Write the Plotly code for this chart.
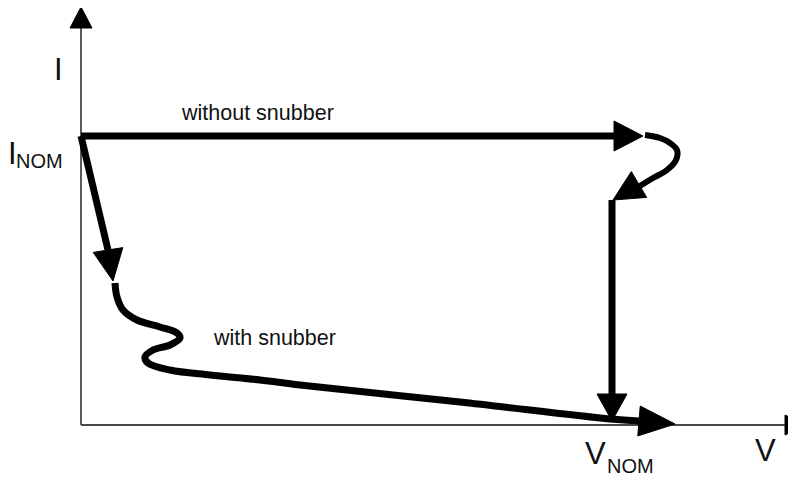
"""Switching trajectory sketch: I-V path with and without snubber."""
import numpy as np
import plotly.graph_objects as go

# path points in chart units (V right, I up)
no_snub_line_v = [0, 533]
no_snub_line_i = [288, 288]
no_snub_loop_v = [564, 579, 589, 596, 595, 586, 572, 559]
no_snub_loop_i = [289, 286, 281, 274, 264, 254, 246, 238]
no_snub_drop_v = [531, 531]
no_snub_drop_i = [224, 30]

snub_line_v = [0, 27]
snub_line_i = [288, 174]
snub_curve_v = [34, 36, 42, 56, 79, 96, 99, 89, 72, 64, 67, 89, 129, 179, 219, 379, 529, 558]
snub_curve_i = [141, 127, 114, 104, 97, 91, 86, 79, 74, 67, 61, 54, 49, 44, 39, 22, 5, 3]

# arrowheads: (base v, base i, tip v, tip i)
arrow_base_v = [533, 558, 531, 27, 558]
arrow_base_i = [288, 239.5, 30, 174, 3]
arrow_tip_v = [562, 532, 531, 32, 594]
arrow_tip_i = [288, 224, 3, 143, 0]

FONT = "Liberation Sans, Arial, sans-serif"
INK = "black"
AXIS = "#4a4a4a"


def head(bv, bi, tv, ti, half):
    """Triangle vertices for an arrowhead from base midpoint to tip."""
    d = np.array([tv - bv, ti - bi], dtype=float)
    d /= np.hypot(*d)
    n = np.array([-d[1], d[0]]) * half
    xs = [bv + n[0], tv, bv - n[0], bv + n[0]]
    ys = [bi + n[1], ti, bi - n[1], bi + n[1]]
    return xs, ys


fig = go.Figure()


def line(xs, ys, width=7, shape="linear", color=INK):
    fig.add_trace(go.Scatter(x=xs, y=ys, mode="lines",
                             line=dict(color=color, width=width, shape=shape),
                             hoverinfo="skip"))


def tri(xs, ys):
    fig.add_trace(go.Scatter(x=xs, y=ys, mode="lines", fill="toself",
                             fillcolor=INK, line=dict(color=INK, width=1),
                             hoverinfo="skip"))


# axes
line([0, 0], [-1, 396], width=1.8, color=AXIS)
line([0, 704], [-1, -1], width=1.8, color=AXIS)
tri(*head(0, 396, 0, 417, 11))
tri(*head(704, -1, 725, -1, 10))

# without snubber
line(no_snub_line_v, no_snub_line_i)
line(no_snub_loop_v, no_snub_loop_i, width=6, shape="spline")
line(no_snub_drop_v, no_snub_drop_i)

# with snubber
line(snub_line_v, snub_line_i)
line(snub_curve_v, snub_curve_i, shape="spline")

for bv, bi, tv, ti in zip(arrow_base_v, arrow_base_i, arrow_tip_v, arrow_tip_i):
    tri(*head(bv, bi, tv, ti, 15))


def label(text, x, y, size, xanchor="center"):
    fig.add_annotation(x=x, y=y, text=text, showarrow=False, xanchor=xanchor,
                       yanchor="middle", font=dict(family=FONT, size=size, color="#111"))


label("I", -23, 355, 31)
label("I", -69, 271, 31)
label("NOM", -67, 263, 20, xanchor="left")
label("V", 684, -26, 31)
label("V", 514, -29, 31)
label("NOM", 524, -42, 20, xanchor="left")
label("without snubber", 98, 311, 21.5, xanchor="left")
label("with snubber", 130, 86, 21.5, xanchor="left")

# page body has an 8px margin, so the figure sits 8px in from the corner
fig.update_layout(
    width=788, height=469,
    margin=dict(l=0, r=0, t=0, b=0),
    plot_bgcolor="white", paper_bgcolor="white",
    showlegend=False,
    xaxis=dict(range=[-73, 715], visible=False, fixedrange=True),
    yaxis=dict(range=[-53, 416], visible=False, fixedrange=True),
)

fig.write_html("out.html")
